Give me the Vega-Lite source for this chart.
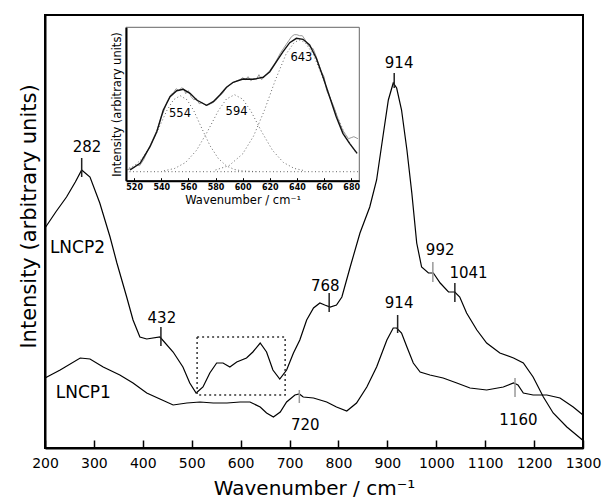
{
  "$schema": "https://vega.github.io/schema/vega-lite/v6.json",
  "width": 538,
  "height": 433,
  "autosize": {"type": "none"},
  "padding": {"left": 45, "top": 15, "right": 21, "bottom": 56},
  "config": {
    "view": {"stroke": "#000", "strokeWidth": 2},
    "font": "DejaVu Sans",
    "axis": {"grid": false}
  },
  "datasets": {
    "spectra": [
      {"s": "LNCP2", "wn": 200, "I": 220}, {"s": "LNCP2", "wn": 222, "I": 236}, {"s": "LNCP2", "wn": 244, "I": 251}, {"s": "LNCP2", "wn": 262, "I": 266}, {"s": "LNCP2", "wn": 275, "I": 278}, {"s": "LNCP2", "wn": 292, "I": 271},
      {"s": "LNCP2", "wn": 312, "I": 245}, {"s": "LNCP2", "wn": 333, "I": 211}, {"s": "LNCP2", "wn": 347, "I": 185}, {"s": "LNCP2", "wn": 367, "I": 151},
      {"s": "LNCP2", "wn": 380, "I": 128}, {"s": "LNCP2", "wn": 394, "I": 111}, {"s": "LNCP2", "wn": 408, "I": 109}, {"s": "LNCP2", "wn": 435, "I": 111},
      {"s": "LNCP2", "wn": 462, "I": 96}, {"s": "LNCP2", "wn": 482, "I": 81}, {"s": "LNCP2", "wn": 496, "I": 65}, {"s": "LNCP2", "wn": 509, "I": 55},
      {"s": "LNCP2", "wn": 523, "I": 61}, {"s": "LNCP2", "wn": 537, "I": 75}, {"s": "LNCP2", "wn": 551, "I": 85}, {"s": "LNCP2", "wn": 564, "I": 85},
      {"s": "LNCP2", "wn": 578, "I": 81}, {"s": "LNCP2", "wn": 592, "I": 86}, {"s": "LNCP2", "wn": 612, "I": 90}, {"s": "LNCP2", "wn": 625, "I": 96},
      {"s": "LNCP2", "wn": 640, "I": 105}, {"s": "LNCP2", "wn": 653, "I": 96}, {"s": "LNCP2", "wn": 666, "I": 78}, {"s": "LNCP2", "wn": 680, "I": 69},
      {"s": "LNCP2", "wn": 694, "I": 78}, {"s": "LNCP2", "wn": 708, "I": 95}, {"s": "LNCP2", "wn": 721, "I": 108}, {"s": "LNCP2", "wn": 735, "I": 128},
      {"s": "LNCP2", "wn": 749, "I": 140}, {"s": "LNCP2", "wn": 762, "I": 145}, {"s": "LNCP2", "wn": 772, "I": 143}, {"s": "LNCP2", "wn": 783, "I": 141},
      {"s": "LNCP2", "wn": 796, "I": 143}, {"s": "LNCP2", "wn": 807, "I": 151}, {"s": "LNCP2", "wn": 824, "I": 181}, {"s": "LNCP2", "wn": 844, "I": 215},
      {"s": "LNCP2", "wn": 864, "I": 241}, {"s": "LNCP2", "wn": 878, "I": 268}, {"s": "LNCP2", "wn": 892, "I": 315}, {"s": "LNCP2", "wn": 902, "I": 348},
      {"s": "LNCP2", "wn": 912, "I": 365}, {"s": "LNCP2", "wn": 919, "I": 360}, {"s": "LNCP2", "wn": 929, "I": 338}, {"s": "LNCP2", "wn": 940, "I": 298},
      {"s": "LNCP2", "wn": 950, "I": 255}, {"s": "LNCP2", "wn": 960, "I": 205}, {"s": "LNCP2", "wn": 970, "I": 181}, {"s": "LNCP2", "wn": 984, "I": 175},
      {"s": "LNCP2", "wn": 994, "I": 175}, {"s": "LNCP2", "wn": 1008, "I": 165}, {"s": "LNCP2", "wn": 1025, "I": 156}, {"s": "LNCP2", "wn": 1038, "I": 156},
      {"s": "LNCP2", "wn": 1048, "I": 151}, {"s": "LNCP2", "wn": 1062, "I": 135}, {"s": "LNCP2", "wn": 1083, "I": 118}, {"s": "LNCP2", "wn": 1103, "I": 105},
      {"s": "LNCP2", "wn": 1130, "I": 95}, {"s": "LNCP2", "wn": 1158, "I": 90}, {"s": "LNCP2", "wn": 1178, "I": 85}, {"s": "LNCP2", "wn": 1198, "I": 71},
      {"s": "LNCP2", "wn": 1219, "I": 51}, {"s": "LNCP2", "wn": 1239, "I": 35}, {"s": "LNCP2", "wn": 1267, "I": 21}, {"s": "LNCP2", "wn": 1299, "I": 8},
      {"s": "LNCP1", "wn": 200, "I": 70}, {"s": "LNCP1", "wn": 231, "I": 78}, {"s": "LNCP1", "wn": 272, "I": 90}, {"s": "LNCP1", "wn": 292, "I": 89},
      {"s": "LNCP1", "wn": 319, "I": 81}, {"s": "LNCP1", "wn": 353, "I": 73}, {"s": "LNCP1", "wn": 380, "I": 65}, {"s": "LNCP1", "wn": 408, "I": 55},
      {"s": "LNCP1", "wn": 435, "I": 49}, {"s": "LNCP1", "wn": 462, "I": 43}, {"s": "LNCP1", "wn": 490, "I": 45}, {"s": "LNCP1", "wn": 517, "I": 46},
      {"s": "LNCP1", "wn": 544, "I": 45}, {"s": "LNCP1", "wn": 572, "I": 45}, {"s": "LNCP1", "wn": 599, "I": 46}, {"s": "LNCP1", "wn": 619, "I": 46},
      {"s": "LNCP1", "wn": 640, "I": 41}, {"s": "LNCP1", "wn": 653, "I": 35}, {"s": "LNCP1", "wn": 667, "I": 31}, {"s": "LNCP1", "wn": 681, "I": 36},
      {"s": "LNCP1", "wn": 694, "I": 46}, {"s": "LNCP1", "wn": 711, "I": 53}, {"s": "LNCP1", "wn": 720, "I": 54}, {"s": "LNCP1", "wn": 728, "I": 51},
      {"s": "LNCP1", "wn": 749, "I": 50}, {"s": "LNCP1", "wn": 776, "I": 46}, {"s": "LNCP1", "wn": 796, "I": 41}, {"s": "LNCP1", "wn": 817, "I": 37},
      {"s": "LNCP1", "wn": 837, "I": 45}, {"s": "LNCP1", "wn": 858, "I": 61}, {"s": "LNCP1", "wn": 878, "I": 81}, {"s": "LNCP1", "wn": 899, "I": 108},
      {"s": "LNCP1", "wn": 912, "I": 120}, {"s": "LNCP1", "wn": 919, "I": 120}, {"s": "LNCP1", "wn": 929, "I": 115}, {"s": "LNCP1", "wn": 940, "I": 101},
      {"s": "LNCP1", "wn": 953, "I": 85}, {"s": "LNCP1", "wn": 967, "I": 76}, {"s": "LNCP1", "wn": 987, "I": 73}, {"s": "LNCP1", "wn": 1014, "I": 70},
      {"s": "LNCP1", "wn": 1042, "I": 65}, {"s": "LNCP1", "wn": 1069, "I": 60}, {"s": "LNCP1", "wn": 1103, "I": 58}, {"s": "LNCP1", "wn": 1137, "I": 61},
      {"s": "LNCP1", "wn": 1158, "I": 65}, {"s": "LNCP1", "wn": 1167, "I": 63}, {"s": "LNCP1", "wn": 1178, "I": 55}, {"s": "LNCP1", "wn": 1198, "I": 53},
      {"s": "LNCP1", "wn": 1226, "I": 53}, {"s": "LNCP1", "wn": 1253, "I": 50}, {"s": "LNCP1", "wn": 1280, "I": 41}, {"s": "LNCP1", "wn": 1300, "I": 33}
    ],
    "peakLabels": [
      {"wn": 286, "I": 301, "label": "282"}, {"wn": 439, "I": 130, "label": "432"}, {"wn": 773, "I": 162, "label": "768"},
      {"wn": 924, "I": 385, "label": "914"}, {"wn": 1008, "I": 198, "label": "992"}, {"wn": 1066, "I": 175, "label": "1041"},
      {"wn": 924, "I": 145, "label": "914"}, {"wn": 732, "I": 23, "label": "720"}, {"wn": 1168, "I": 28, "label": "1160"}
    ],
    "peakTicks": [
      {"wn": 275, "y1": 271, "y2": 290, "tone": "strong"}, {"wn": 437, "y1": 102, "y2": 121, "tone": "strong"},
      {"wn": 781, "y1": 136, "y2": 155, "tone": "strong"}, {"wn": 914, "y1": 360, "y2": 375, "tone": "strong"},
      {"wn": 1038, "y1": 146, "y2": 165, "tone": "strong"}, {"wn": 921, "y1": 115, "y2": 133, "tone": "strong"},
      {"wn": 993, "y1": 166, "y2": 186, "tone": "weak"}, {"wn": 720, "y1": 45, "y2": 58, "tone": "weak"},
      {"wn": 1161, "y1": 51, "y2": 70, "tone": "weak"}
    ],
    "seriesLabels": [
      {"wn": 210, "I": 200, "label": "LNCP2"}, {"wn": 222, "I": 55, "label": "LNCP1"}
    ],
    "zoomBox": [{"x1": 511, "x2": 691, "y1": 53, "y2": 111}],
    "insetFrame": [{"x1": 514, "x2": 686, "y1": 0, "y2": 153.4}],
    "measured": [
      {"ix": 515, "iy": 11}, {"ix": 517, "iy": 12}, {"ix": 520, "iy": 13.5}, {"ix": 522, "iy": 16}, {"ix": 524, "iy": 15}, {"ix": 527, "iy": 21},
      {"ix": 531, "iy": 33}, {"ix": 534, "iy": 42}, {"ix": 537, "iy": 51}, {"ix": 540, "iy": 64}, {"ix": 542, "iy": 70}, {"ix": 544, "iy": 78},
      {"ix": 547, "iy": 86}, {"ix": 549, "iy": 88}, {"ix": 551, "iy": 92}, {"ix": 553, "iy": 90}, {"ix": 555, "iy": 93}, {"ix": 557, "iy": 91},
      {"ix": 558, "iy": 87}, {"ix": 560, "iy": 90}, {"ix": 562, "iy": 84}, {"ix": 564, "iy": 81}, {"ix": 566, "iy": 82}, {"ix": 568, "iy": 77},
      {"ix": 570, "iy": 78}, {"ix": 573, "iy": 75}, {"ix": 575, "iy": 76}, {"ix": 578, "iy": 78}, {"ix": 580, "iy": 80}, {"ix": 583, "iy": 85},
      {"ix": 585, "iy": 87}, {"ix": 588, "iy": 93}, {"ix": 590, "iy": 95}, {"ix": 593, "iy": 98}, {"ix": 596, "iy": 100}, {"ix": 598, "iy": 101},
      {"ix": 600, "iy": 103}, {"ix": 602, "iy": 101}, {"ix": 604, "iy": 104}, {"ix": 606, "iy": 100}, {"ix": 608, "iy": 102}, {"ix": 610, "iy": 101},
      {"ix": 612, "iy": 106}, {"ix": 614, "iy": 101}, {"ix": 616, "iy": 104}, {"ix": 618, "iy": 107}, {"ix": 620, "iy": 110}, {"ix": 622, "iy": 114},
      {"ix": 624, "iy": 118}, {"ix": 626, "iy": 123}, {"ix": 628, "iy": 128}, {"ix": 630, "iy": 132}, {"ix": 632, "iy": 136}, {"ix": 634, "iy": 140},
      {"ix": 636, "iy": 144}, {"ix": 638, "iy": 146}, {"ix": 640, "iy": 146}, {"ix": 642, "iy": 145}, {"ix": 644, "iy": 145}, {"ix": 646, "iy": 141},
      {"ix": 648, "iy": 136}, {"ix": 650, "iy": 133}, {"ix": 652, "iy": 132}, {"ix": 654, "iy": 125}, {"ix": 656, "iy": 117}, {"ix": 658, "iy": 109},
      {"ix": 660, "iy": 104}, {"ix": 662, "iy": 90}, {"ix": 664, "iy": 84}, {"ix": 666, "iy": 78}, {"ix": 668, "iy": 71}, {"ix": 670, "iy": 63},
      {"ix": 672, "iy": 56}, {"ix": 674, "iy": 50}, {"ix": 676, "iy": 46}, {"ix": 678, "iy": 42}, {"ix": 680, "iy": 43}, {"ix": 682, "iy": 44},
      {"ix": 685, "iy": 42}
    ],
    "fit": [
      {"ix": 517, "iy": 10.7}, {"ix": 524.4, "iy": 17.4}, {"ix": 531.7, "iy": 34}, {"ix": 536.7, "iy": 49}, {"ix": 541.5, "iy": 70.7},
      {"ix": 546.5, "iy": 84}, {"ix": 551.4, "iy": 90}, {"ix": 556.2, "iy": 91.4}, {"ix": 561.2, "iy": 87.4}, {"ix": 566.1, "iy": 80.7},
      {"ix": 573.4, "iy": 75.4}, {"ix": 578.3, "iy": 79}, {"ix": 583.2, "iy": 85.7}, {"ix": 588.1, "iy": 93.4}, {"ix": 593, "iy": 98.4},
      {"ix": 600.3, "iy": 101.7}, {"ix": 607.7, "iy": 101.4}, {"ix": 615.1, "iy": 103.4}, {"ix": 620, "iy": 109}, {"ix": 624.9, "iy": 119},
      {"ix": 629.8, "iy": 129}, {"ix": 634.7, "iy": 138}, {"ix": 639.6, "iy": 142.4}, {"ix": 644.5, "iy": 141.4}, {"ix": 649.4, "iy": 135.7},
      {"ix": 654.3, "iy": 122.4}, {"ix": 659.2, "iy": 104}, {"ix": 664.1, "iy": 84}, {"ix": 669, "iy": 64}, {"ix": 673.9, "iy": 47.4},
      {"ix": 678.8, "iy": 37.4}, {"ix": 684.4, "iy": 27.4}
    ],
    "components": [
      {"comp": "base", "ix": 514, "iy": 9}, {"comp": "base", "ix": 686, "iy": 9},
      {"comp": "c554", "ix": 514, "iy": 11.2}, {"comp": "c554", "ix": 520, "iy": 14.8}, {"comp": "c554", "ix": 526, "iy": 22.3},
      {"comp": "c554", "ix": 532, "iy": 34.9}, {"comp": "c554", "ix": 538, "iy": 52}, {"comp": "c554", "ix": 544, "iy": 69.9},
      {"comp": "c554", "ix": 549, "iy": 80.9}, {"comp": "c554", "ix": 554, "iy": 85}, {"comp": "c554", "ix": 559, "iy": 80.9},
      {"comp": "c554", "ix": 564, "iy": 69.9}, {"comp": "c554", "ix": 570, "iy": 52}, {"comp": "c554", "ix": 576, "iy": 34.9},
      {"comp": "c554", "ix": 582, "iy": 22.3}, {"comp": "c554", "ix": 588, "iy": 14.8}, {"comp": "c554", "ix": 594, "iy": 11.2},
      {"comp": "c554", "ix": 600, "iy": 9.7}, {"comp": "c554", "ix": 610, "iy": 9.1},
      {"comp": "c594", "ix": 542, "iy": 9.9}, {"comp": "c594", "ix": 550, "iy": 12.3}, {"comp": "c594", "ix": 558, "iy": 18.3},
      {"comp": "c594", "ix": 566, "iy": 30.4}, {"comp": "c594", "ix": 574, "iy": 49}, {"comp": "c594", "ix": 582, "iy": 69.8},
      {"comp": "c594", "ix": 588, "iy": 81.6}, {"comp": "c594", "ix": 594, "iy": 86}, {"comp": "c594", "ix": 600, "iy": 81.6},
      {"comp": "c594", "ix": 606, "iy": 69.8}, {"comp": "c594", "ix": 614, "iy": 49}, {"comp": "c594", "ix": 622, "iy": 30.4},
      {"comp": "c594", "ix": 630, "iy": 18.3}, {"comp": "c594", "ix": 638, "iy": 12.3}, {"comp": "c594", "ix": 646, "iy": 9.9},
      {"comp": "c643", "ix": 580, "iy": 10.7}, {"comp": "c643", "ix": 590, "iy": 15.1}, {"comp": "c643", "ix": 600, "iy": 26.8},
      {"comp": "c643", "ix": 608, "iy": 44.5}, {"comp": "c643", "ix": 616, "iy": 70.2}, {"comp": "c643", "ix": 624, "iy": 100.2},
      {"comp": "c643", "ix": 632, "iy": 126.6}, {"comp": "c643", "ix": 638, "iy": 138.3}, {"comp": "c643", "ix": 642, "iy": 140.7},
      {"comp": "c643", "ix": 646, "iy": 138.3}, {"comp": "c643", "ix": 652, "iy": 126.6}, {"comp": "c643", "ix": 660, "iy": 100.2},
      {"comp": "c643", "ix": 668, "iy": 70.2}, {"comp": "c643", "ix": 676, "iy": 44.5}, {"comp": "c643", "ix": 684, "iy": 26.8}
    ],
    "insetLabels": [
      {"ix": 553.8, "iy": 66.7, "label": "554"}, {"ix": 595.5, "iy": 69, "label": "594"}, {"ix": 643.3, "iy": 122.4, "label": "643"}
    ]
  },
  "layer": [
    {
      "layer": [
        {
          "data": {"name": "spectra"},
          "mark": {"type": "line", "color": "#000", "strokeWidth": 1.2},
          "encoding": {
            "x": {
              "field": "wn", "type": "quantitative",
              "scale": {"domain": [200, 1300], "nice": false, "zero": false},
              "axis": {
                "title": "Wavenumber / cm⁻¹",
                "values": [200, 300, 400, 500, 600, 700, 800, 900, 1000, 1100, 1200, 1300],
                "format": "d",
                "labelFlush": false, "labelOverlap": false,
                "domainColor": "#000", "domainWidth": 2,
                "tickColor": "#000", "tickWidth": 1.5, "tickSize": -8,
                "labelPadding": 16, "labelFontSize": 14, "labelColor": "#000",
                "titleFontSize": 20, "titleFontWeight": "normal", "titleColor": "#000", "titlePadding": 8
              }
            },
            "y": {
              "field": "I", "type": "quantitative",
              "scale": {"domain": [0, 433], "nice": false, "zero": false},
              "axis": {
                "title": "Intensity (arbitrary units)",
                "ticks": false, "labels": false,
                "domainColor": "#000", "domainWidth": 2,
                "titleFontSize": 21, "titleFontWeight": "normal", "titleColor": "#000",
                "titlePadding": 6, "titleY": 201
              }
            },
            "detail": {"field": "s"}
          }
        },
        {
          "data": {"name": "zoomBox"},
          "mark": {"type": "rect", "fill": null, "fillOpacity": 0, "stroke": "#333", "strokeWidth": 1.5, "strokeDash": [2, 3]},
          "encoding": {
            "x": {"field": "x1", "type": "quantitative", "scale": {"domain": [200, 1300], "nice": false, "zero": false}},
            "x2": {"field": "x2"},
            "y": {"field": "y1", "type": "quantitative", "scale": {"domain": [0, 433], "nice": false, "zero": false}},
            "y2": {"field": "y2"}
          }
        },
        {
          "data": {"name": "peakTicks"},
          "mark": {"type": "rule", "strokeWidth": 1.5},
          "encoding": {
            "x": {"field": "wn", "type": "quantitative", "scale": {"domain": [200, 1300], "nice": false, "zero": false}},
            "y": {"field": "y1", "type": "quantitative", "scale": {"domain": [0, 433], "nice": false, "zero": false}},
            "y2": {"field": "y2"},
            "color": {"field": "tone", "type": "nominal", "scale": {"domain": ["strong", "weak"], "range": ["#222", "#999"]}, "legend": null}
          }
        },
        {
          "data": {"name": "peakLabels"},
          "mark": {"type": "text", "fontSize": 15, "color": "#000", "align": "center", "baseline": "middle"},
          "encoding": {
            "x": {"field": "wn", "type": "quantitative", "scale": {"domain": [200, 1300], "nice": false, "zero": false}},
            "y": {"field": "I", "type": "quantitative", "scale": {"domain": [0, 433], "nice": false, "zero": false}},
            "text": {"field": "label"}
          }
        },
        {
          "data": {"name": "seriesLabels"},
          "mark": {"type": "text", "fontSize": 17, "color": "#000", "align": "left", "baseline": "middle"},
          "encoding": {
            "x": {"field": "wn", "type": "quantitative", "scale": {"domain": [200, 1300], "nice": false, "zero": false}},
            "y": {"field": "I", "type": "quantitative", "scale": {"domain": [0, 433], "nice": false, "zero": false}},
            "text": {"field": "label"}
          }
        }
      ]
    },
    {
      "layer": [
        {
          "data": {"name": "insetFrame"},
          "mark": {"type": "rect", "fill": "#fff", "stroke": "#666", "strokeWidth": 1},
          "encoding": {
            "x": {
              "field": "x1", "type": "quantitative",
              "scale": {"domain": [514, 686], "range": [81, 314.3], "nice": false, "zero": false},
              "axis": {
                "orient": "bottom", "offset": -267.3, "zindex": 2,
                "title": "Wavenumber / cm⁻¹",
                "values": [520, 540, 560, 580, 600, 620, 640, 660, 680],
                "format": "d",
                "labelFlush": false, "labelOverlap": false,
                "domainColor": "#000", "domainWidth": 2,
                "tickColor": "#000", "tickSize": -3, "tickWidth": 1,
                "labelPadding": 6, "labelFontSize": 8, "labelFontWeight": "bold", "labelColor": "#000",
                "titleFontSize": 11.5, "titleFontWeight": "normal", "titleColor": "#000", "titlePadding": 3
              }
            },
            "x2": {"field": "x2"},
            "y": {
              "field": "y1", "type": "quantitative",
              "scale": {"domain": [0, 153.4], "range": [165.7, 12.3], "nice": false, "zero": false},
              "axis": {
                "orient": "left", "offset": -81, "zindex": 2,
                "title": "Intensity (arbitrary units)",
                "ticks": false, "labels": false,
                "domainColor": "#000", "domainWidth": 2,
                "titleFontSize": 11.5, "titleFontWeight": "normal", "titleColor": "#000", "titlePadding": 4
              }
            },
            "y2": {"field": "y2"}
          }
        },
        {
          "data": {"name": "components"},
          "mark": {"type": "line", "color": "#666", "strokeWidth": 1, "strokeDash": [1, 2.5]},
          "encoding": {
            "x": {"field": "ix", "type": "quantitative", "scale": {"domain": [514, 686], "range": [81, 314.3], "nice": false, "zero": false}},
            "y": {"field": "iy", "type": "quantitative", "scale": {"domain": [0, 153.4], "range": [165.7, 12.3], "nice": false, "zero": false}},
            "detail": {"field": "comp"}
          }
        },
        {
          "data": {"name": "measured"},
          "mark": {"type": "line", "color": "#999", "strokeWidth": 1},
          "encoding": {
            "x": {"field": "ix", "type": "quantitative", "scale": {"domain": [514, 686], "range": [81, 314.3], "nice": false, "zero": false}},
            "y": {"field": "iy", "type": "quantitative", "scale": {"domain": [0, 153.4], "range": [165.7, 12.3], "nice": false, "zero": false}}
          }
        },
        {
          "data": {"name": "fit"},
          "mark": {"type": "line", "color": "#111", "strokeWidth": 1.4},
          "encoding": {
            "x": {"field": "ix", "type": "quantitative", "scale": {"domain": [514, 686], "range": [81, 314.3], "nice": false, "zero": false}},
            "y": {"field": "iy", "type": "quantitative", "scale": {"domain": [0, 153.4], "range": [165.7, 12.3], "nice": false, "zero": false}}
          }
        },
        {
          "data": {"name": "insetLabels"},
          "mark": {"type": "text", "fontSize": 11.5, "color": "#000", "align": "center", "baseline": "middle"},
          "encoding": {
            "x": {"field": "ix", "type": "quantitative", "scale": {"domain": [514, 686], "range": [81, 314.3], "nice": false, "zero": false}},
            "y": {"field": "iy", "type": "quantitative", "scale": {"domain": [0, 153.4], "range": [165.7, 12.3], "nice": false, "zero": false}},
            "text": {"field": "label"}
          }
        }
      ]
    }
  ],
  "resolve": {"scale": {"x": "independent", "y": "independent"}}
}
